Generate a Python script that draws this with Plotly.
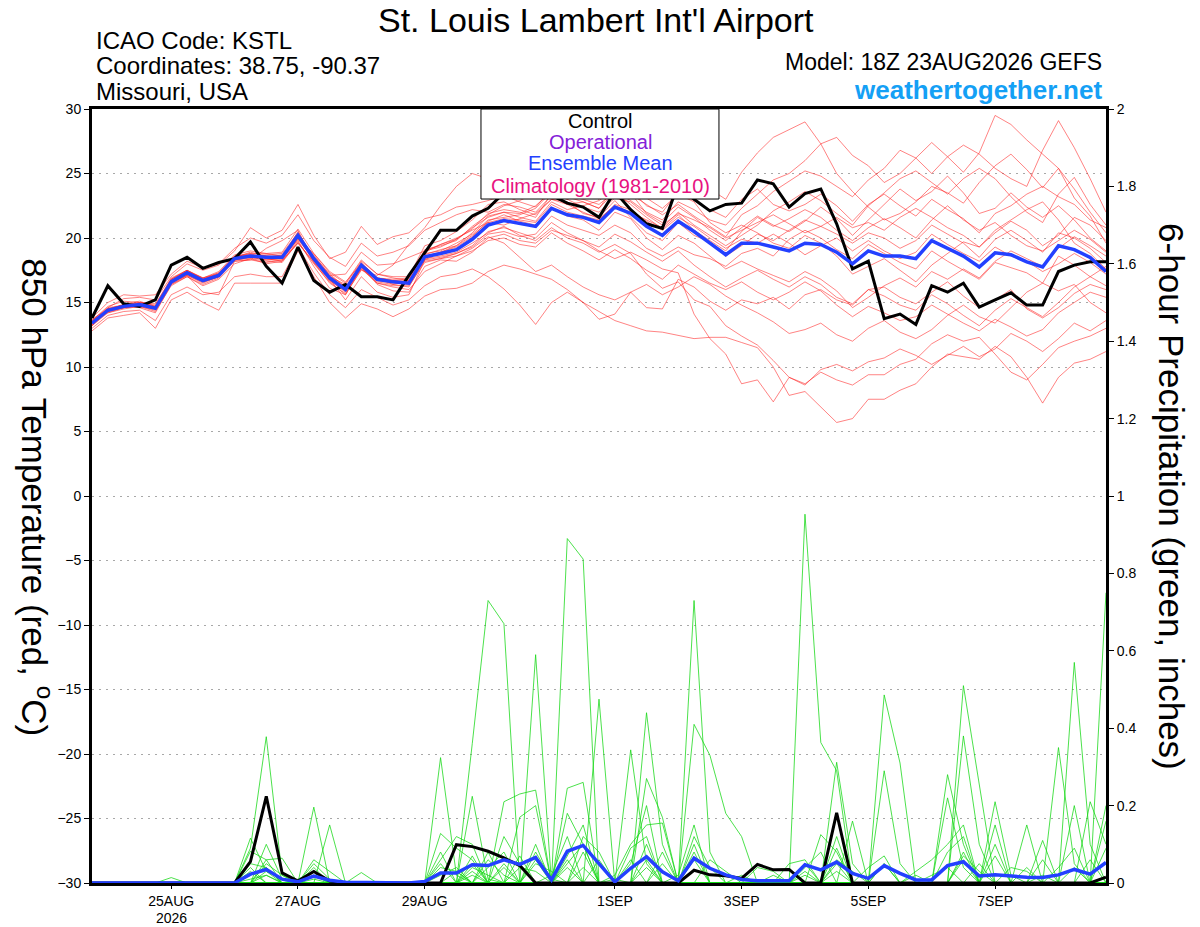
import pandas as pd
import plotly.graph_objects as go

# ---------------- time axis ----------------
run_start = "2026-08-23 18:00"
n_steps = 65
times = pd.date_range(run_start, periods=n_steps, freq="6h")

tick_dates = ["2026-08-25", "2026-08-27", "2026-08-29", "2026-09-01",
              "2026-09-03", "2026-09-05", "2026-09-07"]
tick_labels = ["25AUG", "27AUG", "29AUG", "1SEP", "3SEP", "5SEP", "7SEP"]
year_label = "2026"
year_label_date = "2026-08-25"

temp_ticks = [-30, -25, -20, -15, -10, -5, 0, 5, 10, 15, 20, 25, 30]
precip_ticks = [0, 0.2, 0.4, 0.6, 0.8, 1, 1.2, 1.4, 1.6, 1.8, 2]
precip_tick_labels = ["0", "0.2", "0.4", "0.6", "0.8", "1", "1.2", "1.4", "1.6", "1.8", "2"]

# ---------------- 850 hPa temperature (C) ----------------
temp_control = [13.8, 16.3, 14.9, 14.7, 15.2, 17.9, 18.5, 17.65, 18.1, 18.4,
                19.7, 17.8, 16.5, 19.3, 16.7, 15.8, 16.4, 15.45, 15.45, 15.2,
                17.1, 18.9, 20.6, 20.6, 21.7, 22.3, 23.5, 24.0, 23.8, 23.3,
                22.7, 22.4, 21.6, 23.6, 22.2, 21.1, 20.75, 24.2, 23.0, 22.1,
                22.6, 22.7, 24.5, 24.2, 22.4, 23.45, 23.8, 21.1, 17.6, 18.2,
                13.75, 14.1, 13.3, 16.3, 15.8, 16.5, 14.65, 15.2, 15.75, 14.8,
                14.8, 17.4, 17.9, 18.15, 18.15]

temp_mean = [13.4, 14.4, 14.7, 14.85, 14.55, 16.6, 17.3, 16.7, 17.1, 18.4,
             18.6, 18.5, 18.5, 20.2, 18.4, 16.9, 16.0, 17.9, 16.8, 16.6,
             16.5, 18.55, 18.8, 19.1, 19.9, 21.0, 21.35, 21.1, 20.9, 22.3,
             21.8, 21.6, 21.2, 22.4, 21.9, 20.9, 20.2, 21.3, 20.5, 19.6,
             18.7, 19.6, 19.6, 19.3, 19.0, 19.6, 19.5, 18.9, 18.0, 19.0,
             18.6, 18.6, 18.4, 19.8, 19.2, 18.6, 17.75, 18.85, 18.7, 18.15,
             17.75, 19.4, 19.1, 18.5, 17.4]

temp_m01 = [13.2, 14.6, 15.3, 15.4, 15.2, 17.0, 18.0, 17.5, 17.9, 19.0,
            20.8, 20.0, 20.6, 22.6, 20.2, 18.4, 18.9, 20.9, 19.5, 20.1,
            20.4, 21.5, 21.8, 22.4, 22.6, 22.9, 23.3, 22.8, 22.4, 23.8,
            23.2, 22.8, 22.3, 23.6, 22.9, 22.0, 21.4, 22.8, 22.2, 21.4,
            21.0, 22.3, 23.4, 24.5, 25.0, 26.0, 27.3, 27.8, 26.4, 25.6,
            24.3, 25.0, 26.2, 27.4, 26.3, 25.1, 26.6, 29.5, 28.8, 27.6,
            26.5, 25.4, 23.8, 22.0, 20.4]
temp_m02 = [13.5, 14.2, 14.6, 14.7, 14.3, 16.3, 17.0, 16.4, 16.9, 18.2,
            18.3, 19.2, 19.8, 20.6, 18.1, 16.5, 15.7, 17.5, 17.1, 17.9,
            19.5, 20.8, 22.5, 24.0, 25.0, 24.6, 24.2, 24.0, 24.3, 25.0,
            24.5, 23.7, 23.0, 24.4, 25.1, 24.5, 23.6, 24.7, 24.5, 23.8,
            23.0, 25.1, 26.6, 27.8, 28.4, 29.0, 27.3, 25.0, 23.6, 22.4,
            21.4, 21.9, 22.8, 24.0, 23.5, 22.7, 24.3, 25.6, 26.5, 25.3,
            23.9, 25.4, 23.1, 21.7, 19.6]
temp_m03 = [13.7, 14.5, 14.8, 14.9, 14.6, 16.7, 17.4, 16.9, 17.2, 18.5,
            18.9, 18.6, 18.4, 19.9, 18.8, 17.4, 16.6, 18.0, 16.9, 16.4,
            16.2, 18.3, 18.9, 19.4, 20.4, 21.7, 22.0, 21.6, 21.3, 22.8,
            22.2, 22.5, 22.9, 23.8, 23.4, 22.6, 21.8, 22.6, 21.7, 20.9,
            20.1, 21.8, 22.5, 23.6, 24.4, 25.2, 24.8, 24.0, 23.2, 24.5,
            25.4, 26.8, 26.2, 25.0, 26.3, 27.2, 26.5, 25.4, 24.6, 24.0,
            26.8, 29.1, 27.0, 24.6, 22.0]
temp_m04 = [12.8, 13.8, 14.0, 14.2, 13.0, 15.2, 15.8, 15.0, 14.4, 16.5,
            16.5, 16.5, 16.5, 19.0, 17.0, 15.0, 13.8, 14.9, 14.5, 13.9,
            14.5, 15.5, 16.0, 16.1, 16.5, 17.4, 17.9, 17.6, 17.2, 16.8,
            16.0, 15.0, 14.3, 13.6, 13.2, 12.8, 12.7, 12.45, 12.2, 12.3,
            12.3, 11.9, 11.5, 10.0, 7.8, 8.1, 6.9, 5.7, 6.0, 7.5,
            7.5, 8.2, 8.7, 10.0, 11.0, 10.8, 10.6, 11.6, 10.8, 9.2,
            7.2, 9.2, 10.3, 10.6, 11.2]
temp_m05 = [13.3, 14.3, 14.8, 14.6, 14.2, 16.4, 17.0, 16.3, 16.8, 18.0,
            18.4, 18.0, 18.2, 19.8, 17.8, 16.1, 15.6, 17.8, 16.4, 15.9,
            15.8, 17.8, 18.3, 18.2, 18.9, 20.0, 20.3, 19.8, 19.6, 20.6,
            20.2, 19.8, 19.0, 18.4, 18.9, 18.3, 17.6, 17.3, 14.1, 12.2,
            11.0, 8.7, 9.0, 7.3, 9.2, 8.7, 9.6, 9.0, 8.6, 9.4,
            9.4, 10.2, 10.6, 11.8, 12.5, 12.0, 12.3, 11.0, 9.6, 9.0,
            10.2, 11.5, 12.0, 12.4, 13.0]
temp_m06 = [13.0, 14.0, 14.3, 14.4, 13.6, 15.6, 16.2, 15.6, 15.8, 17.0,
            17.2, 17.0, 17.0, 19.3, 17.3, 15.6, 14.6, 16.0, 15.4, 14.8,
            15.2, 16.3, 17.0, 17.2, 17.6, 17.0, 16.05, 14.8, 13.3, 15.0,
            15.8, 15.0, 13.7, 14.1, 15.8, 16.4, 15.6, 16.2, 17.0, 16.4,
            15.5, 14.8, 14.2, 13.5, 12.6, 12.9, 13.4, 12.5, 12.0, 13.0,
            13.6, 12.7, 12.2, 12.9, 14.0, 14.8, 13.9, 13.4, 14.6, 15.8,
            16.5, 15.9, 16.4, 15.0, 14.2]
temp_m07 = [13.6, 14.7, 15.1, 15.0, 14.9, 16.8, 17.5, 16.8, 17.2, 18.6,
            18.7, 18.4, 18.6, 20.3, 18.6, 17.2, 16.2, 17.7, 16.5, 16.2,
            16.0, 17.4, 18.0, 18.6, 19.2, 20.1, 19.6, 18.5, 17.4, 17.9,
            17.0, 16.2, 15.6, 15.2, 15.8, 14.6, 14.5, 16.8, 16.2, 15.1,
            14.4, 15.2, 14.9, 15.4, 14.5, 15.6, 16.0, 15.2, 14.8, 16.0,
            16.2, 15.4, 14.9, 15.8, 16.6, 15.5, 14.6, 15.2, 16.0, 14.5,
            13.8, 14.6, 15.7, 16.4, 16.0]
temp_m08 = [13.4, 14.5, 14.6, 14.8, 14.7, 16.5, 17.1, 16.6, 17.0, 18.3,
            18.5, 18.3, 18.3, 20.0, 18.2, 16.7, 15.9, 17.6, 16.6, 16.4,
            16.6, 18.4, 18.6, 18.9, 19.6, 20.4, 20.9, 20.2, 19.8, 20.8,
            20.0, 19.6, 18.9, 19.5, 18.8, 17.2, 16.1, 16.6, 15.2, 14.7,
            13.2, 12.4, 11.7, 10.5, 9.2, 8.6, 9.8, 10.2, 9.7, 10.4,
            10.7, 11.4, 10.9, 10.2, 10.9, 11.6, 10.8, 11.4, 12.6, 12.0,
            11.2, 12.2, 13.4, 12.8, 13.6]
temp_m09 = [13.8, 15.0, 15.6, 15.5, 15.6, 17.2, 18.2, 17.7, 18.0, 19.2,
            20.0, 19.6, 20.2, 21.8, 19.8, 18.5, 17.8, 19.6, 18.6, 18.9,
            19.4, 20.6, 21.2, 21.8, 22.2, 22.0, 22.6, 22.4, 22.0, 23.3,
            22.6, 22.8, 22.3, 24.0, 23.5, 21.9, 21.2, 22.4, 21.6, 20.6,
            19.8, 20.8, 21.7, 21.0, 20.5, 21.3, 22.4, 21.5, 20.2, 21.4,
            22.6, 23.8, 22.9, 23.6, 24.8, 23.5, 21.9, 22.3, 23.5, 22.4,
            21.6, 22.5, 21.4, 20.0, 19.0]
temp_m10 = [13.3, 14.4, 14.7, 14.9, 14.5, 16.5, 17.2, 16.6, 17.0, 18.4,
            18.6, 18.7, 18.8, 20.4, 18.3, 16.8, 15.9, 18.0, 16.9, 16.8,
            16.9, 19.1, 19.4, 19.8, 20.9, 21.8, 22.5, 22.9, 23.5, 24.2,
            24.0, 24.6, 24.0, 24.9, 24.2, 23.1, 22.3, 23.4, 22.8, 21.2,
            20.4, 21.0, 20.4, 19.6, 19.2, 20.2, 19.6, 18.6, 17.2, 17.8,
            18.4, 17.5, 16.6, 17.9, 18.8, 19.7, 19.3, 20.4, 21.3, 20.6,
            19.4, 20.2, 21.6, 21.0, 19.8]
temp_m11 = [13.5, 14.3, 14.9, 15.1, 14.7, 16.8, 17.4, 16.8, 17.3, 18.5,
            18.8, 18.4, 18.2, 19.6, 18.2, 17.0, 16.4, 18.2, 17.2, 16.9,
            16.7, 18.9, 19.5, 20.0, 20.6, 21.2, 21.0, 21.5, 21.9, 23.0,
            22.8, 21.9, 21.6, 22.9, 21.6, 20.4, 19.8, 21.2, 20.2, 19.7,
            18.6, 19.4, 20.3, 19.8, 20.6, 21.4, 20.9, 20.3, 19.6, 20.4,
            20.0, 19.2, 19.8, 21.0, 20.3, 19.6, 18.5, 19.9, 20.6, 19.8,
            18.9, 20.4, 20.0, 19.2, 18.1]
temp_m12 = [13.2, 14.2, 14.5, 14.7, 14.4, 16.6, 17.1, 16.5, 17.0, 18.3,
            18.4, 18.2, 18.1, 19.7, 18.0, 16.6, 15.6, 17.6, 16.5, 16.3,
            16.3, 18.1, 18.4, 18.8, 19.3, 20.3, 20.5, 20.1, 20.3, 21.7,
            21.0, 20.6, 20.2, 21.0, 20.4, 19.2, 18.6, 19.3, 18.7, 18.4,
            17.8, 18.8, 19.2, 18.6, 19.9, 20.6, 20.0, 19.1, 18.4, 19.5,
            18.8, 18.1, 17.6, 19.0, 18.2, 17.5, 16.8, 18.1, 17.7, 17.3,
            16.5, 18.6, 17.9, 17.0, 16.3]
temp_m13 = [13.6, 14.6, 14.8, 15.0, 14.8, 16.9, 17.5, 16.9, 17.4, 18.7,
            19.0, 18.8, 18.6, 20.1, 18.7, 17.1, 17.2, 18.9, 17.9, 18.0,
            18.5, 19.0, 19.3, 19.9, 20.7, 21.9, 22.2, 22.0, 21.6, 23.4,
            23.0, 23.6, 23.2, 24.2, 23.7, 22.5, 22.0, 23.6, 22.9, 22.2,
            21.6, 23.0, 23.8, 22.6, 22.1, 22.6, 23.4, 22.5, 21.3, 22.6,
            23.4, 22.5, 21.7, 23.0, 22.2, 21.5, 20.4, 21.9, 22.5, 23.4,
            24.0, 23.2, 22.6, 21.4, 20.8]
temp_m14 = [13.4, 14.4, 14.7, 14.8, 14.6, 16.6, 17.3, 16.7, 17.1, 18.4,
            18.6, 18.5, 18.7, 20.2, 18.5, 17.0, 16.1, 17.9, 16.7, 16.5,
            16.4, 18.6, 18.9, 19.3, 20.1, 21.3, 21.8, 21.3, 21.0, 22.4,
            21.7, 21.4, 20.6, 22.0, 21.5, 20.0, 19.1, 20.2, 19.6, 18.6,
            17.6, 18.2, 17.6, 17.1, 16.6, 17.4, 16.8, 15.9, 14.6, 15.4,
            16.3, 16.9, 16.2, 17.4, 16.8, 17.6, 16.9, 18.2, 19.0, 18.4,
            17.8, 19.2, 20.1, 19.4, 18.6]
temp_m15 = [13.5, 14.5, 14.8, 14.9, 14.6, 16.7, 17.4, 16.8, 17.2, 18.5,
            18.7, 18.6, 18.5, 20.5, 18.4, 16.9, 16.0, 17.8, 16.8, 16.7,
            16.6, 18.8, 19.0, 19.6, 20.3, 21.4, 21.6, 21.8, 22.3, 23.6,
            23.0, 22.4, 22.0, 23.1, 22.8, 21.8, 21.0, 21.9, 21.4, 20.8,
            20.0, 20.6, 21.2, 21.8, 21.1, 20.4, 20.9, 21.6, 20.8, 21.2,
            20.6, 21.6, 22.3, 21.6, 20.8, 20.2, 19.3, 20.6, 21.4, 22.2,
            22.8, 21.4, 19.6, 18.8, 17.6]
temp_m16 = [13.3, 14.3, 14.6, 14.8, 14.5, 16.5, 17.2, 16.6, 17.0, 18.3,
            18.5, 18.3, 18.4, 19.9, 18.3, 16.8, 15.2, 17.0, 15.8, 15.4,
            15.6, 18.3, 18.5, 18.8, 19.4, 20.5, 20.8, 20.4, 20.0, 21.2,
            20.4, 19.8, 19.3, 20.3, 19.7, 18.9, 18.2, 19.0, 17.9, 17.0,
            16.2, 16.9, 17.5, 16.8, 16.2, 17.0, 16.4, 15.4, 14.9, 16.0,
            15.5, 14.8, 14.4, 15.6, 14.9, 14.0, 13.2, 14.4, 15.3, 14.6,
            13.9, 15.0, 16.2, 17.0, 17.8]
temp_m17 = [13.6, 14.4, 14.6, 14.8, 14.6, 16.8, 17.5, 16.9, 17.3, 18.6,
            18.8, 18.8, 18.9, 20.7, 18.8, 17.3, 16.5, 18.3, 17.2, 17.0,
            17.0, 19.4, 19.8, 20.5, 21.4, 22.6, 22.8, 22.2, 21.8, 23.0,
            22.6, 22.0, 21.5, 22.5, 22.0, 21.4, 20.8, 22.0, 21.0, 20.2,
            19.4, 20.2, 21.0, 22.1, 22.8, 23.6, 22.9, 21.9, 21.0, 22.5,
            23.5, 24.6, 25.2, 24.3, 23.4, 24.6, 25.4, 24.6, 23.2, 22.0,
            21.2, 23.4, 24.7, 22.6, 21.0]
temp_m18 = [13.2, 14.3, 14.6, 14.7, 14.5, 16.4, 17.1, 15.8, 15.6, 18.2,
            18.3, 18.1, 18.3, 19.6, 18.1, 16.7, 15.8, 17.7, 16.7, 16.6,
            16.7, 18.2, 18.4, 18.6, 19.0, 19.8, 20.0, 19.5, 19.3, 20.4,
            19.6, 19.0, 18.3, 19.1, 18.4, 17.5, 16.8, 17.9, 17.2, 16.5,
            16.0, 16.6, 15.8, 15.2, 15.8, 16.6, 15.9, 14.8, 13.9, 14.7,
            14.2, 13.6, 13.9, 14.8, 14.1, 13.4, 12.8, 13.7, 13.1, 12.4,
            12.9, 14.2, 15.0, 15.8, 15.4]
temp_m19 = [13.5, 14.5, 14.8, 15.0, 14.7, 16.6, 17.3, 16.7, 17.1, 18.4,
            18.6, 18.6, 18.6, 20.0, 18.5, 17.1, 16.2, 18.1, 16.9, 16.7,
            16.5, 18.7, 19.1, 19.4, 20.2, 21.2, 21.5, 21.4, 21.2, 22.6,
            22.0, 21.7, 21.4, 22.6, 22.2, 21.3, 20.6, 21.6, 20.9, 20.0,
            19.2, 19.9, 19.6, 20.3, 19.6, 18.7, 19.4, 20.0, 19.0, 19.8,
            19.0, 18.4, 18.9, 20.3, 19.5, 18.8, 18.2, 19.3, 18.6, 18.2,
            17.4, 18.0, 18.8, 18.1, 17.2]
temp_m20 = [13.4, 14.4, 14.7, 14.9, 14.6, 16.6, 17.3, 16.8, 17.1, 18.4,
            18.7, 18.5, 18.5, 20.3, 18.5, 17.0, 16.1, 18.0, 16.9, 16.7,
            16.8, 19.0, 19.5, 19.9, 20.8, 21.6, 22.0, 21.9, 22.5, 23.6,
            23.3, 23.0, 22.6, 23.6, 22.6, 21.6, 20.7, 21.8, 20.6, 19.8,
            19.0, 20.5, 21.6, 20.9, 21.5, 22.2, 21.6, 20.6, 19.8, 20.8,
            21.5, 20.8, 20.0, 21.4, 22.5, 21.4, 20.6, 21.2, 20.2, 19.4,
            19.0, 19.8, 20.6, 19.9, 18.9]

# ---------------- 6-hour precipitation (inches) ----------------
precip_control = [0, 0, 0, 0, 0, 0, 0, 0, 0, 0,
                  0.055, 0.224, 0.026, 0.005, 0.03, 0.005, 0, 0, 0, 0,
                  0, 0, 0, 0.099, 0.094, 0.082, 0.065, 0.045, 0, 0,
                  0, 0, 0, 0, 0, 0, 0, 0, 0.033, 0.021,
                  0.019, 0.012, 0.048, 0.034, 0.035, 0, 0, 0.181, 0, 0,
                  0, 0, 0, 0, 0, 0, 0, 0, 0, 0,
                  0, 0, 0, 0, 0.015]

precip_mean = [0, 0, 0, 0, 0, 0.002, 0.001, 0, 0, 0,
               0.023, 0.035, 0.01, 0.003, 0.018, 0.007, 0.002, 0.001, 0, 0,
               0, 0.004, 0.026, 0.026, 0.047, 0.045, 0.06, 0.048, 0.066, 0.008,
               0.082, 0.097, 0.051, 0.003, 0.038, 0.068, 0.029, 0.006, 0.064, 0.038,
               0.021, 0.009, 0.006, 0.005, 0.006, 0.047, 0.034, 0.054, 0.025, 0.012,
               0.045, 0.025, 0.008, 0.008, 0.045, 0.055, 0.018, 0.021, 0.017, 0.015,
               0.014, 0.021, 0.035, 0.023, 0.053]

precip_m01 = [0, 0, 0, 0, 0, 0.014, 0, 0, 0, 0,
              0.09, 0.378, 0.02, 0, 0, 0, 0, 0, 0, 0,
              0, 0, 0.324, 0.02, 0, 0, 0, 0, 0, 0,
              0.05, 0.1, 0, 0, 0, 0, 0, 0, 0, 0,
              0, 0, 0, 0, 0, 0.02, 0, 0, 0, 0,
              0, 0, 0, 0, 0, 0.08, 0, 0, 0, 0,
              0, 0, 0, 0, 0]
precip_m02 = [0, 0, 0, 0, 0, 0, 0, 0, 0, 0,
              0.116, 0.03, 0, 0, 0, 0, 0, 0, 0, 0,
              0, 0, 0, 0, 0.36, 0.73, 0.67, 0, 0, 0,
              0, 0, 0, 0, 0.05, 0.2, 0, 0, 0, 0,
              0, 0, 0, 0, 0, 0, 0, 0.05, 0, 0,
              0, 0, 0, 0, 0, 0, 0, 0, 0, 0,
              0, 0, 0.57, 0.1, 0]
precip_m03 = [0, 0, 0, 0, 0, 0, 0, 0, 0, 0,
              0.082, 0.06, 0.064, 0, 0.02, 0, 0, 0, 0, 0,
              0, 0, 0, 0, 0, 0, 0, 0, 0.59, 0,
              0, 0, 0, 0, 0, 0.44, 0.1, 0, 0, 0,
              0, 0, 0, 0, 0, 0, 0, 0, 0, 0,
              0.05, 0, 0, 0, 0.28, 0.1, 0, 0, 0, 0,
              0, 0, 0, 0, 0]
precip_m04 = [0, 0, 0, 0, 0, 0, 0, 0, 0, 0,
              0, 0.05, 0.02, 0, 0.196, 0, 0, 0, 0, 0,
              0, 0, 0, 0, 0, 0, 0, 0, 0, 0,
              0.89, 0.837, 0, 0, 0, 0, 0, 0, 0, 0,
              0, 0, 0, 0, 0, 0.05, 0, 0, 0, 0,
              0, 0, 0, 0, 0, 0, 0, 0.21, 0.02, 0,
              0, 0, 0, 0, 0]
precip_m05 = [0, 0, 0, 0, 0, 0, 0, 0, 0, 0,
              0.03, 0, 0, 0, 0, 0.15, 0, 0, 0, 0,
              0, 0, 0.128, 0.09, 0.06, 0, 0, 0, 0, 0,
              0, 0, 0.475, 0, 0, 0, 0, 0, 0.73, 0.08,
              0, 0, 0, 0, 0, 0, 0, 0, 0, 0,
              0, 0, 0, 0, 0, 0, 0, 0, 0, 0,
              0, 0.35, 0.05, 0, 0]
precip_m06 = [0, 0, 0, 0, 0, 0, 0, 0, 0, 0,
              0.04, 0, 0, 0, 0.06, 0.03, 0, 0.027, 0, 0,
              0, 0, 0, 0, 0, 0, 0.21, 0.23, 0.24, 0,
              0, 0, 0, 0, 0, 0, 0, 0, 0.41, 0.33,
              0.18, 0.12, 0, 0, 0, 0, 0, 0, 0, 0,
              0, 0, 0, 0, 0, 0.51, 0.25, 0, 0, 0,
              0, 0, 0, 0, 0]
precip_m07 = [0, 0, 0, 0, 0, 0, 0, 0, 0, 0,
              0, 0.1, 0.01, 0, 0, 0, 0, 0, 0, 0,
              0, 0, 0, 0, 0.224, 0.01, 0, 0, 0, 0,
              0, 0, 0, 0, 0.344, 0.05, 0, 0, 0, 0,
              0, 0, 0, 0, 0, 0.953, 0.363, 0.29, 0, 0,
              0, 0, 0, 0, 0, 0, 0, 0, 0, 0,
              0, 0, 0, 0, 0.75]
precip_m08 = [0, 0, 0, 0, 0, 0, 0, 0, 0, 0,
              0.02, 0.04, 0, 0, 0, 0, 0, 0, 0, 0,
              0, 0, 0.06, 0.12, 0.1, 0, 0, 0, 0, 0,
              0.245, 0.26, 0, 0, 0, 0, 0, 0, 0, 0,
              0, 0, 0, 0, 0, 0, 0, 0.312, 0.05, 0,
              0, 0, 0, 0, 0, 0, 0, 0, 0, 0.15,
              0, 0, 0, 0, 0]
precip_m09 = [0, 0, 0, 0, 0, 0, 0, 0, 0, 0,
              0, 0, 0, 0.01, 0.03, 0, 0, 0, 0, 0,
              0, 0, 0, 0, 0, 0, 0, 0.17, 0.2, 0,
              0, 0, 0, 0, 0, 0.27, 0.17, 0, 0, 0,
              0, 0, 0, 0, 0, 0, 0, 0, 0, 0,
              0.486, 0.31, 0, 0, 0, 0, 0, 0, 0, 0,
              0.11, 0, 0, 0, 0]
precip_m10 = [0, 0, 0, 0, 0, 0, 0, 0, 0, 0,
              0, 0.02, 0, 0, 0, 0, 0, 0, 0, 0,
              0, 0, 0, 0, 0, 0.04, 0.08, 0, 0, 0,
              0.18, 0.1, 0, 0, 0, 0, 0, 0, 0, 0,
              0, 0, 0, 0, 0, 0, 0.125, 0.08, 0, 0,
              0, 0, 0, 0, 0, 0.38, 0.1, 0, 0, 0,
              0, 0, 0, 0, 0.16]
precip_m11 = [0, 0, 0, 0, 0, 0, 0, 0, 0, 0,
              0, 0, 0, 0, 0.04, 0, 0, 0, 0, 0,
              0, 0, 0.04, 0.03, 0, 0, 0, 0, 0.05, 0.03,
              0, 0, 0, 0, 0, 0, 0, 0.02, 0.15, 0,
              0, 0, 0, 0, 0, 0, 0, 0, 0.16, 0,
              0, 0, 0, 0, 0.22, 0.04, 0, 0, 0, 0,
              0, 0, 0, 0, 0]
precip_m12 = [0, 0, 0, 0, 0, 0, 0, 0, 0, 0,
              0, 0, 0, 0, 0, 0, 0, 0, 0, 0,
              0, 0, 0.08, 0, 0.05, 0, 0.12, 0.05, 0, 0,
              0.06, 0, 0, 0.02, 0.1, 0.15, 0.155, 0, 0, 0,
              0, 0, 0, 0, 0, 0, 0, 0, 0, 0,
              0.29, 0.05, 0, 0, 0, 0, 0, 0, 0, 0,
              0, 0, 0, 0.21, 0.1]
precip_m13 = [0, 0, 0, 0, 0, 0, 0, 0, 0, 0,
              0.01, 0.02, 0, 0, 0, 0, 0, 0, 0, 0,
              0, 0, 0, 0, 0, 0.08, 0, 0, 0.1, 0,
              0, 0.12, 0.08, 0, 0, 0, 0, 0, 0, 0.06,
              0.03, 0, 0, 0, 0, 0, 0, 0.12, 0, 0,
              0, 0, 0.03, 0.06, 0.1, 0.15, 0, 0.15, 0, 0,
              0, 0, 0, 0, 0]
precip_m14 = [0, 0, 0, 0, 0, 0, 0, 0, 0, 0,
              0, 0, 0, 0, 0.01, 0, 0, 0, 0, 0,
              0, 0, 0, 0, 0.02, 0, 0.04, 0, 0, 0.02,
              0.12, 0, 0, 0, 0, 0, 0.05, 0, 0.1, 0,
              0, 0, 0, 0.02, 0, 0, 0, 0.09, 0, 0,
              0, 0, 0, 0, 0, 0, 0, 0, 0.04, 0.03,
              0, 0, 0.2, 0, 0]
precip_m15 = [0, 0, 0, 0, 0, 0, 0, 0, 0, 0,
              0, 0, 0, 0, 0, 0, 0, 0, 0, 0,
              0, 0, 0.02, 0.04, 0, 0, 0, 0.07, 0, 0,
              0, 0.04, 0, 0, 0.09, 0.12, 0, 0, 0.06, 0,
              0, 0, 0, 0, 0, 0.04, 0.08, 0, 0, 0,
              0, 0, 0, 0, 0, 0, 0, 0.1, 0, 0,
              0.06, 0, 0, 0, 0]
precip_m16 = [0, 0, 0, 0, 0, 0, 0, 0, 0, 0,
              0, 0.03, 0.01, 0, 0, 0, 0, 0, 0, 0,
              0, 0, 0, 0, 0.03, 0, 0, 0, 0.08, 0.01,
              0, 0, 0.06, 0, 0, 0.06, 0, 0, 0, 0,
              0, 0, 0.04, 0.03, 0, 0, 0, 0, 0, 0.04,
              0.07, 0, 0, 0, 0, 0, 0.05, 0, 0, 0,
              0, 0.04, 0.09, 0, 0]
precip_m17 = [0, 0, 0, 0, 0, 0, 0, 0, 0, 0,
              0, 0, 0, 0, 0.05, 0.01, 0, 0, 0, 0,
              0, 0, 0, 0, 0, 0.06, 0.02, 0, 0, 0,
              0.07, 0.15, 0, 0, 0, 0, 0.08, 0, 0.12, 0.04,
              0, 0, 0, 0, 0, 0, 0, 0.06, 0.03, 0,
              0, 0, 0, 0, 0.08, 0.12, 0, 0, 0, 0,
              0, 0, 0, 0, 0.09]
precip_m18 = [0, 0, 0, 0, 0, 0, 0, 0, 0, 0,
              0.05, 0.04, 0, 0, 0, 0, 0, 0, 0, 0,
              0, 0, 0.05, 0, 0.07, 0, 0, 0.04, 0.03, 0,
              0, 0, 0, 0, 0, 0.1, 0, 0, 0, 0,
              0, 0, 0, 0, 0.05, 0.06, 0, 0, 0, 0,
              0, 0, 0.02, 0, 0, 0.07, 0.03, 0, 0, 0,
              0, 0, 0, 0, 0]
precip_m19 = [0, 0, 0, 0, 0, 0, 0, 0, 0, 0,
              0, 0.06, 0, 0, 0.02, 0, 0, 0, 0, 0,
              0, 0, 0, 0.03, 0, 0, 0.05, 0, 0, 0,
              0.04, 0, 0, 0, 0.06, 0, 0, 0, 0.08, 0,
              0, 0.02, 0, 0, 0, 0, 0, 0.03, 0, 0,
              0, 0, 0, 0.02, 0.04, 0, 0, 0.07, 0, 0.04,
              0, 0, 0, 0.06, 0]
precip_m20 = [0, 0, 0, 0, 0, 0, 0, 0, 0, 0,
              0, 0, 0, 0, 0, 0, 0, 0, 0, 0,
              0, 0, 0, 0, 0.04, 0.02, 0, 0, 0.06, 0,
              0, 0.08, 0, 0.01, 0, 0.04, 0, 0, 0, 0,
              0, 0, 0, 0, 0, 0.03, 0, 0, 0, 0,
              0.05, 0, 0, 0, 0, 0.06, 0, 0, 0, 0,
              0.02, 0, 0.04, 0, 0.2]

temp_members = [temp_m01, temp_m02, temp_m03, temp_m04, temp_m05, temp_m06, temp_m07,
                temp_m08, temp_m09, temp_m10, temp_m11, temp_m12, temp_m13, temp_m14,
                temp_m15, temp_m16, temp_m17, temp_m18, temp_m19, temp_m20]
precip_members = [precip_m01, precip_m02, precip_m03, precip_m04, precip_m05, precip_m06,
                  precip_m07, precip_m08, precip_m09, precip_m10, precip_m11, precip_m12,
                  precip_m13, precip_m14, precip_m15, precip_m16, precip_m17, precip_m18,
                  precip_m19, precip_m20]

# ---------------- styling ----------------
FONT = "Liberation Sans, Arial, Helvetica, sans-serif"
RED = "rgba(255,30,30,0.62)"
GREEN = "rgba(20,215,20,0.85)"
BLACK = "#000000"
BLUE = "#2340ff"

fig = go.Figure()

for m in temp_members:
    fig.add_trace(go.Scatter(x=times, y=m, mode="lines", yaxis="y",
                             line=dict(color=RED, width=0.9), hoverinfo="skip"))
fig.add_trace(go.Scatter(x=times, y=temp_control, mode="lines", yaxis="y",
                         line=dict(color=BLACK, width=3)))
fig.add_trace(go.Scatter(x=times, y=temp_mean, mode="lines", yaxis="y",
                         line=dict(color=BLUE, width=3.5)))

for m in precip_members:
    fig.add_trace(go.Scatter(x=times, y=m, mode="lines", yaxis="y2",
                             line=dict(color=GREEN, width=0.9), hoverinfo="skip"))
fig.add_trace(go.Scatter(x=times, y=precip_control, mode="lines", yaxis="y2",
                         line=dict(color=BLACK, width=3)))
fig.add_trace(go.Scatter(x=times, y=precip_mean, mode="lines", yaxis="y2",
                         line=dict(color=BLUE, width=3.5)))

fig.update_layout(
    width=1200, height=927,
    margin=dict(l=92, r=94, t=109, b=44, autoexpand=False),
    paper_bgcolor="white", plot_bgcolor="white",
    showlegend=False,
    font=dict(family=FONT, color="black"),
    xaxis=dict(type="date", range=[times[0], times[-1]],
               tickvals=tick_dates, ticktext=tick_labels,
               tickfont=dict(size=14, family=FONT),
               ticks="outside", ticklen=3, tickwidth=1, tickcolor="black",
               showline=True, linecolor="black", linewidth=3, mirror=True,
               showgrid=False, zeroline=False, automargin=False),
    yaxis=dict(range=[-30, 30], tickvals=temp_ticks,
               tickfont=dict(size=14, family=FONT),
               ticks="outside", ticklen=5, tickwidth=1, tickcolor="black",
               showline=True, linecolor="black", linewidth=3,
               showgrid=True, gridcolor="#a8a8a8", griddash="2px,5px", gridwidth=1,
               zeroline=False, automargin=False),
    yaxis2=dict(range=[0, 2], overlaying="y", side="right",
                tickvals=precip_ticks, ticktext=precip_tick_labels,
                tickfont=dict(size=14, family=FONT),
                ticks="outside", ticklen=5, tickwidth=1, tickcolor="black",
                showline=True, linecolor="black", linewidth=3,
                showgrid=False, zeroline=False, automargin=False),
)

# year label under the first date tick
fig.add_annotation(text=year_label, xref="x", yref="paper", x=year_label_date, y=-0.0455,
                   xanchor="center", yanchor="middle", showarrow=False,
                   font=dict(size=14, family=FONT))

# legend box
fig.add_shape(type="rect", xref="paper", yref="paper",
              x0=0.3836, x1=0.6183, y0=0.8837, y1=1.0,
              fillcolor="white", line=dict(color="black", width=1), layer="above")

legend_items = [("Control", "#000000", 0.9845),
                ("Operational", "#8420d8", 0.9574),
                ("Ensemble Mean", "#2340ff", 0.9302),
                ("Climatology (1981-2010)", "#e8127f", 0.9005)]
for txt, col, yy in legend_items:
    fig.add_annotation(text=txt, xref="paper", yref="paper", x=0.501, y=yy,
                       xanchor="center", yanchor="middle", showarrow=False,
                       font=dict(size=20, color=col, family=FONT))

# header texts
fig.add_annotation(text="St. Louis Lambert Int'l Airport", xref="paper", yref="paper",
                   x=0.497, y=1.1150, xanchor="center", yanchor="middle", showarrow=False,
                   font=dict(size=34, family=FONT))
for txt, yy in [("ICAO Code: KSTL", 1.089), ("Coordinates: 38.75, -90.37", 1.0556),
                ("Missouri, USA", 1.022)]:
    fig.add_annotation(text=txt, xref="paper", yref="paper", x=0.002, y=yy,
                       xanchor="left", yanchor="middle", showarrow=False,
                       font=dict(size=24, family=FONT))
fig.add_annotation(text="Model: 18Z 23AUG2026 GEFS", xref="paper", yref="paper",
                   x=0.998, y=1.0604, xanchor="right", yanchor="middle", showarrow=False,
                   font=dict(size=23, family=FONT))
fig.add_annotation(text="<b>weathertogether.net</b>", xref="paper", yref="paper",
                   x=0.998, y=1.0250, xanchor="right", yanchor="middle", showarrow=False,
                   font=dict(size=26, family=FONT, color="#14a0f5"))

# axis titles (both read top-to-bottom)
fig.add_annotation(text="850 hPa Temperature (red, <sup>o</sup>C)", xref="paper", yref="paper",
                   x=-0.0545, y=0.4987, xanchor="center", yanchor="middle", showarrow=False,
                   textangle=90, font=dict(size=35, family=FONT))
fig.add_annotation(text="6-hour Precipitation (green, inches)", xref="paper", yref="paper",
                   x=1.0650, y=0.4987, xanchor="center", yanchor="middle", showarrow=False,
                   textangle=90, font=dict(size=35, family=FONT))

fig.write_html("out.html", config={"displayModeBar": False},
               post_script="document.body.style.margin='0px';")
